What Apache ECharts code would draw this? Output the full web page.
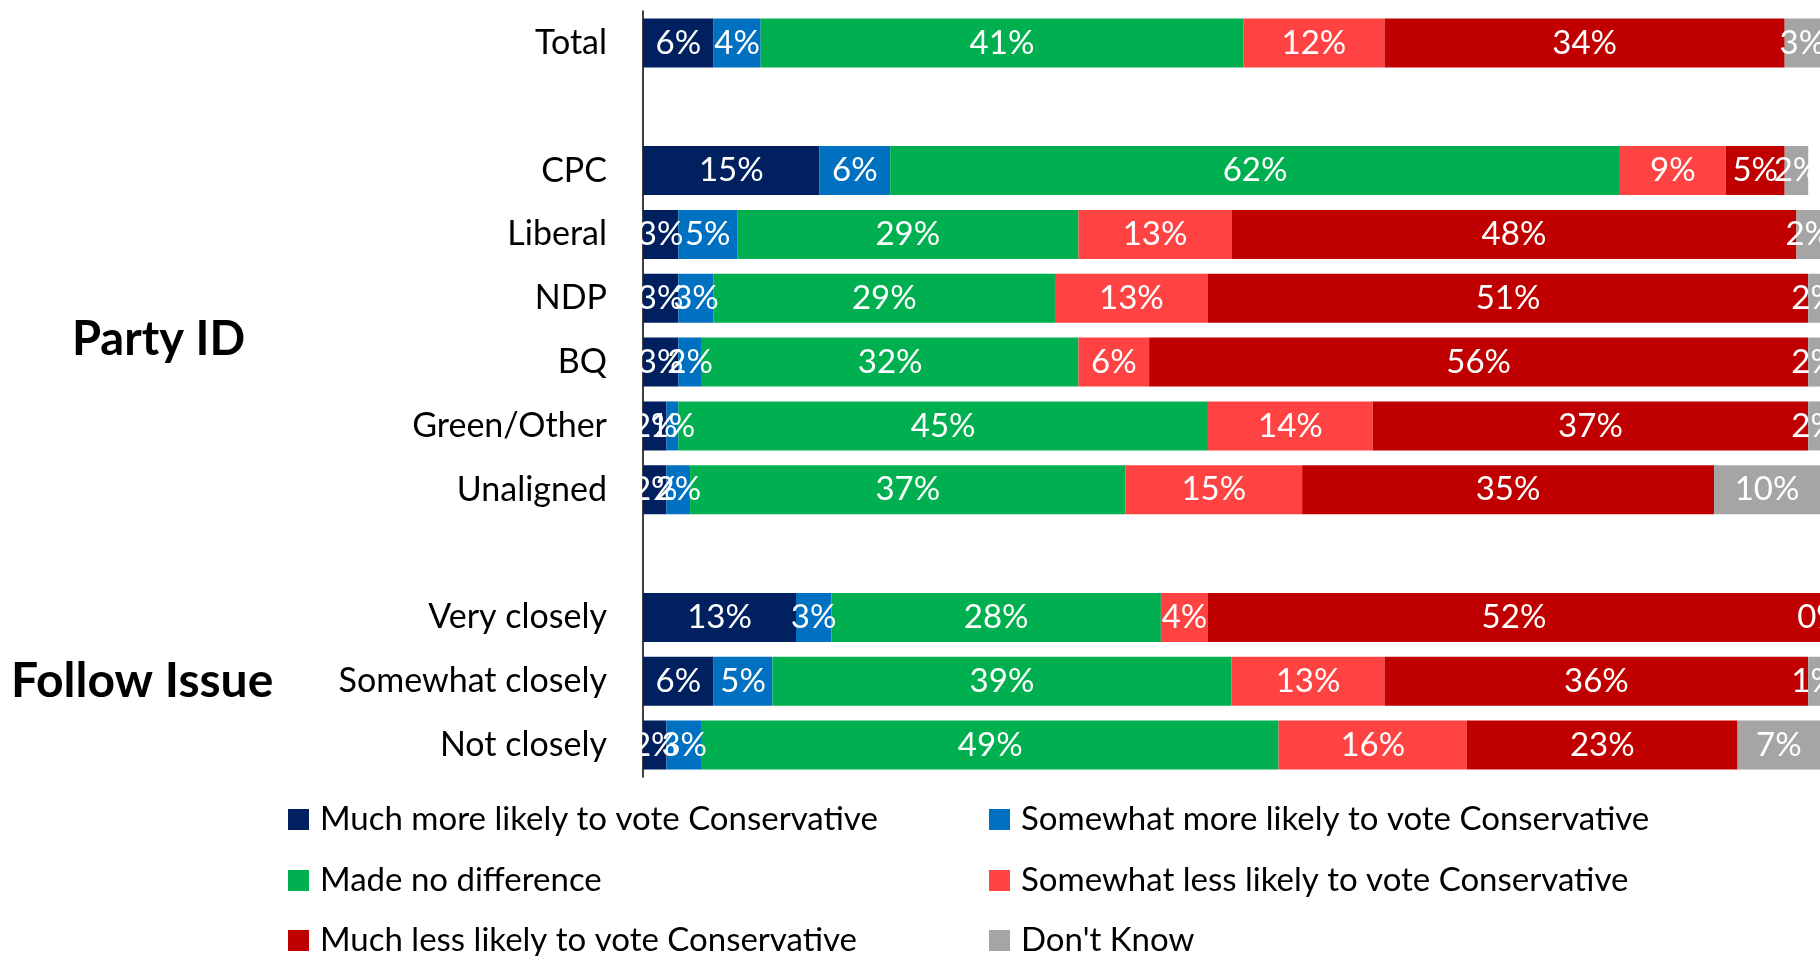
<!DOCTYPE html>
<html>
<head>
<meta charset="utf-8">
<script src="https://cdn.jsdelivr.net/npm/echarts@6/dist/echarts.min.js"></script>
<style>
html,body{margin:0;padding:0;background:#fff;}
#chart{width:1820px;height:956px;}
</style>
</head>
<body>
<div id="chart"></div>
<script>
// Rows (top to bottom); '' and ' ' are spacer rows
const categories = ['Total', '', 'CPC', 'Liberal', 'NDP', 'BQ', 'Green/Other', 'Unaligned', ' ', 'Very closely', 'Somewhat closely', 'Not closely'];

const seriesNames = [
  'Much more likely to vote Conservative',
  'Somewhat more likely to vote Conservative',
  'Made no difference',
  'Somewhat less likely to vote Conservative',
  'Much less likely to vote Conservative',
  "Don't Know"
];

const muchMore     = [6, null, 15, 3, 3, 3, 2, 2, null, 13, 6, 2];
const somewhatMore = [4, null, 6, 5, 3, 2, 1, 2, null, 3, 5, 3];
const noDifference = [41, null, 62, 29, 29, 32, 45, 37, null, 28, 39, 49];
const somewhatLess = [12, null, 9, 13, 13, 6, 14, 15, null, 4, 13, 16];
const muchLess     = [34, null, 5, 48, 51, 56, 37, 35, null, 52, 36, 23];
const dontKnow     = [3, null, 2, 2, 2, 2, 2, 10, null, 0, 1, 7];

const groupLabels = ['Party ID', 'Follow Issue'];

const colors = ['#002060', '#0070C0', '#00B050', '#FF4343', '#C00000', '#A5A5A5'];
const seriesData = [muchMore, somewhatMore, noDifference, somewhatLess, muchLess, dontKnow];

const FONT = 'Lato, "Open Sans", sans-serif';

const chart = echarts.init(document.getElementById('chart'), null, {renderer: 'canvas'});

const series = seriesNames.map((name, i) => ({
  name: name,
  type: 'bar',
  stack: 'all',
  barWidth: 49,
  data: seriesData[i],
  itemStyle: {color: colors[i]},
  label: {
    show: true,
    position: 'inside',
    color: '#fff',
    fontFamily: FONT,
    fontSize: 33,
    formatter: p => (p.value === null || p.value === undefined) ? '' : p.value + '%'
  },
  emphasis: {disabled: true},
  animation: false
}));

const legendText = {color: '#000', fontFamily: FONT, fontSize: 33, lineHeight: 33, padding: [0, 0, 0, 6]};

// legend slots: two columns, three rows
const legendCols = [288, 989];
const legendRows = [803, 864, 924];
const legends = seriesNames.map((name, i) => ({
  data: [name],
  left: legendCols[i % 2],
  top: legendRows[Math.floor(i / 2)],
  padding: 0,
  itemWidth: 21, itemHeight: 21,
  icon: 'rect', textStyle: legendText, selectedMode: false
}));

chart.setOption({
  animation: false,
  color: colors,
  grid: {left: 643, right: 0, top: 11, bottom: 179, containLabel: false},
  xAxis: {
    type: 'value', min: 0, max: 100,
    show: false
  },
  yAxis: {
    type: 'category',
    inverse: true,
    data: categories,
    axisLine: {show: true, lineStyle: {color: '#000', width: 1.5}},
    axisTick: {show: false},
    splitLine: {show: false},
    axisLabel: {color: '#000', fontFamily: FONT, fontSize: 34, margin: 36, interval: 0}
  },
  legend: legends,
  graphic: [
    {type: 'text', left: 72, top: 316, style: {text: groupLabels[0], font: 'bold 47px ' + FONT, fill: '#000'}},
    {type: 'text', left: 11, top: 658, style: {text: groupLabels[1], font: 'bold 48px ' + FONT, fill: '#000'}}
  ],
  series: series
});
</script>
</body>
</html>
